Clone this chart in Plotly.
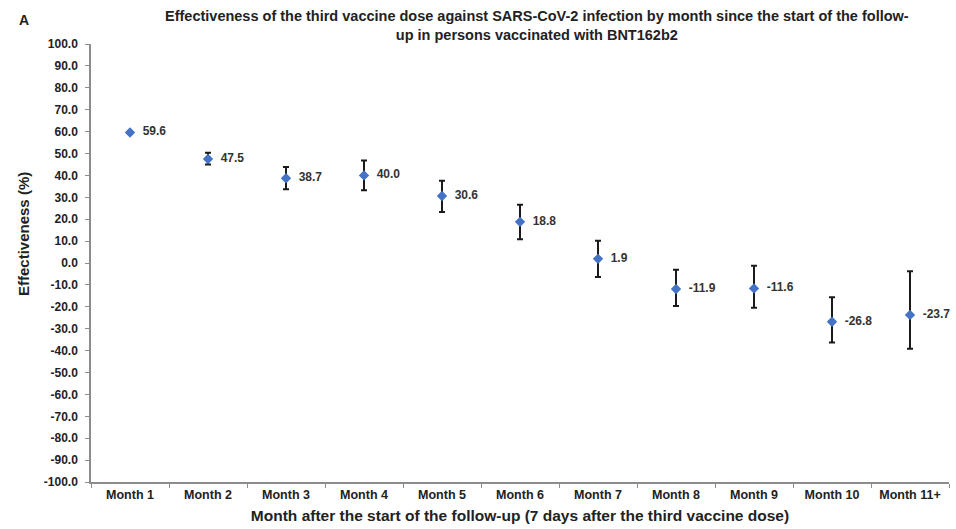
import plotly.graph_objects as go

months = ["Month 1", "Month 2", "Month 3", "Month 4", "Month 5", "Month 6",
          "Month 7", "Month 8", "Month 9", "Month 10", "Month 11+"]
effectiveness = [59.6, 47.5, 38.7, 40.0, 30.6, 18.8, 1.9, -11.9, -11.6, -26.8, -23.7]
ci_upper = [60.3, 50.3, 43.8, 46.8, 37.6, 26.6, 10.2, -3.1, -1.2, -15.6, -3.8]
ci_lower = [58.9, 45.0, 33.7, 33.2, 23.3, 10.9, -6.4, -19.6, -20.4, -36.3, -39.1]
y_ticks = list(range(-100, 101, 10))

err_plus = [u - v for u, v in zip(ci_upper, effectiveness)]
err_minus = [v - l for v, l in zip(effectiveness, ci_lower)]

FONT = "Arial, Liberation Sans, sans-serif"
INK = "#222222"

fig = go.Figure()
fig.add_trace(go.Scatter(
    x=months,
    y=effectiveness,
    mode="markers+text",
    marker=dict(symbol="diamond", size=8, color="#4472C4"),
    error_y=dict(type="data", symmetric=False, array=err_plus, arrayminus=err_minus,
                 color="#1a1a1a", thickness=2, width=3),
    text=[f"{v:.1f}" for v in effectiveness],
    texttemplate="  %{text}",
    textposition="middle right",
    textfont=dict(family=FONT, size=12, color="#333333", weight="bold"),
    showlegend=False,
    cliponaxis=False,
))

fig.update_layout(
    width=956, height=529,
    margin=dict(l=91, r=7, t=44, b=47),
    paper_bgcolor="white",
    plot_bgcolor="white",
    font=dict(family=FONT, color=INK),
    xaxis=dict(
        type="category",
        range=[-0.5, 10.5],
        showline=True, linecolor="#8c8c8c", linewidth=1.5,
        ticks="outside", tickson="boundaries", ticklen=4, tickcolor="#8c8c8c",
        tickfont=dict(family=FONT, size=12.5, color=INK, weight="bold"),
        showgrid=False, zeroline=False,
        title=dict(text="Month after the start of the follow-up (7 days after the third vaccine dose)",
                   font=dict(family=FONT, size=15.5, color=INK, weight="bold"),
                   standoff=9),
    ),
    yaxis=dict(
        range=[-100, 100],
        tickvals=y_ticks,
        ticktext=[f"{v:.1f}" for v in y_ticks],
        showline=True, linecolor="#8c8c8c", linewidth=1.5,
        ticks="outside", ticklen=4, tickcolor="#8c8c8c",
        ticklabelstandoff=5,
        tickfont=dict(family=FONT, size=12, color=INK, weight="bold"),
        showgrid=False, zeroline=False,
    ),
    annotations=[
        dict(text="Effectiveness of the third vaccine dose against SARS-CoV-2 infection by month since the start of the follow-<br>up in persons vaccinated with BNT162b2",
             xref="paper", yref="paper", x=(537 - 91) / 858, y=1.0, yshift=38,
             xanchor="center", yanchor="top", showarrow=False, align="center",
             font=dict(family=FONT, size=14.5, color=INK, weight="bold")),
        dict(text="A", xref="paper", yref="paper", x=(17 - 91) / 858, y=1.0, yshift=34,
             xanchor="left", yanchor="top", showarrow=False,
             font=dict(family=FONT, size=14, color=INK, weight="bold")),
        dict(text="Effectiveness (%)", xref="paper", yref="paper",
             x=(23 - 91) / 858, y=(482 - 234) / 438, textangle=-90,
             xanchor="center", yanchor="middle", showarrow=False,
             font=dict(family=FONT, size=15, color=INK, weight="bold")),
    ],
)

fig.write_html("out.html")
